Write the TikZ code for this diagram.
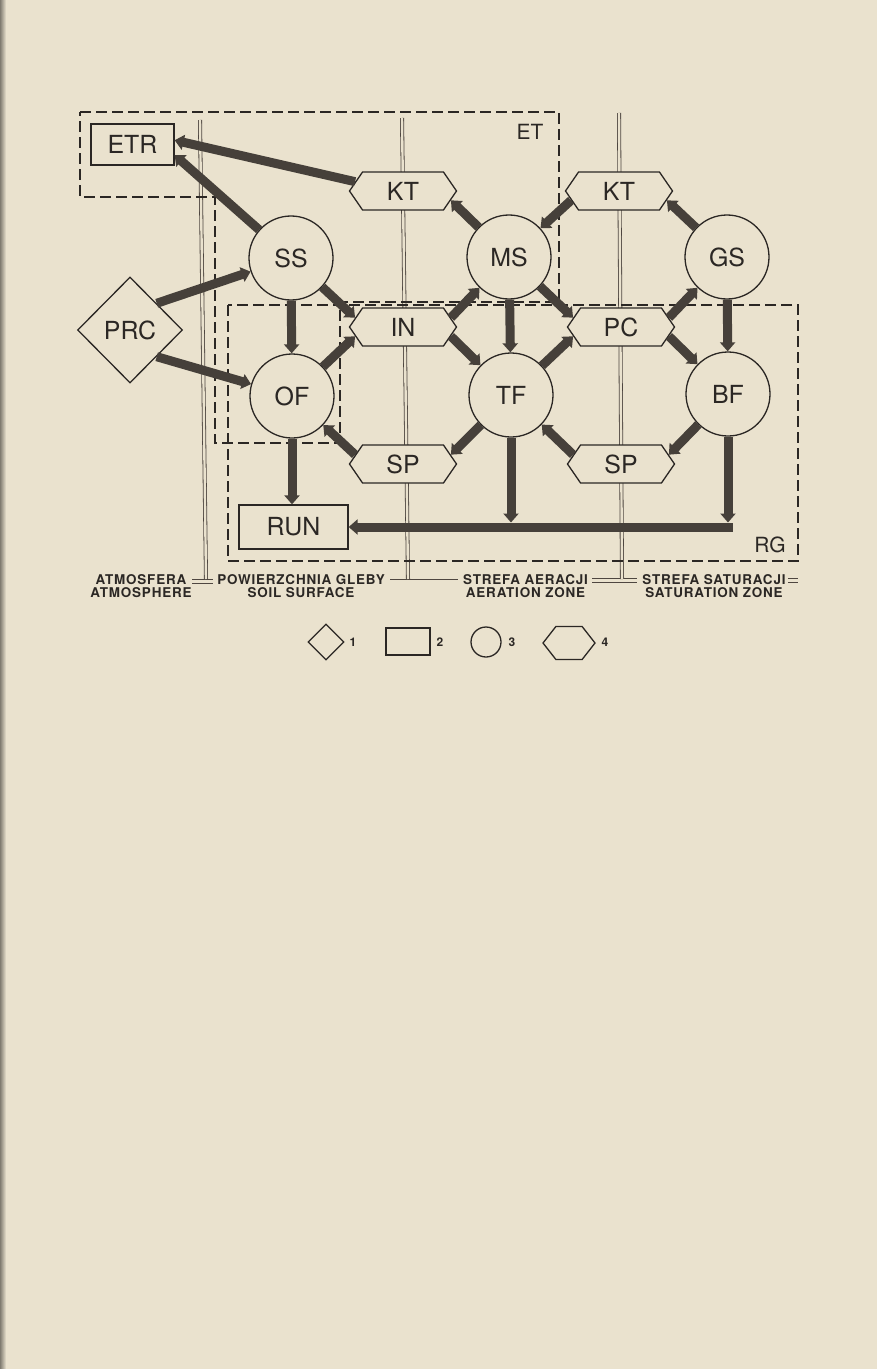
\documentclass[tikz,border=0pt]{standalone}
\usepackage{fontspec}
\setmainfont{TeX Gyre Heros}
\newfontfamily\labfont[LetterSpace=6]{TeX Gyre Heros}
\usetikzlibrary{shapes.geometric,shapes.symbols,arrows.meta,calc}
\definecolor{bgc}{HTML}{EAE2CE}
\definecolor{ink}{HTML}{2B2724}
\definecolor{arrc}{HTML}{46403A}
\definecolor{polec}{HTML}{4E4640}
\begin{document}
\begin{tikzpicture}[x=1bp,y=-1bp,
  every node/.style={font=\fontsize{25}{25}\selectfont, text=ink},
  shp/.style={draw=ink, fill=bgc, line width=1.3bp, inner sep=0pt},
  circ/.style={shp, circle, minimum size=84bp},
  hexa/.style={shp, signal, signal to=east and west, signal pointer angle=111,
               minimum width=107bp, minimum height=38bp},
  box/.style={shp, rectangle},
  dia/.style={shp, diamond, minimum width=105bp, minimum height=106bp},
  arr/.style={draw=arrc, line width=9bp, -{Triangle[width=15bp,length=9bp]}},
  dbox/.style={draw=ink, line width=1.3bp, dash pattern=on 11bp off 5bp},
  pole/.style={draw=polec, line width=0.8bp, double=bgc, double distance=2.4bp},
  foot/.style={draw=polec, line width=0.8bp, double=bgc, double distance=3bp},
  lab/.style={font=\labfont\bfseries\fontsize{13.5}{12.5}\selectfont, align=center, text=ink},
  leg/.style={font=\bfseries\fontsize{12}{12}\selectfont, text=ink},
  zone/.style={font=\fontsize{21}{21}\selectfont}
]
\useasboundingbox (0,0) rectangle (877,1369);
\fill[bgc] (0,0) rectangle (877,1369);
\shade[left color=black!45!bgc, right color=bgc] (0,0) rectangle (6,1369);

% poles
\draw[foot] (192,581.5) -- (213,581.5);
\draw[foot] (390,581) -- (458,581);
\draw[foot] (592,580.5) -- (637,580.5);
\draw[foot] (788,580.5) -- (798,580.5);
\draw[pole] (200,120) -- (206,579);
\draw[pole] (402,118) -- (408,579);
\draw[pole] (619,113) -- (622,579);

% dashed zones
\draw[dbox] (80,112) -- (559,112) -- (559,302) -- (340,302) -- (340,443) -- (215,443) -- (215,197) -- (80,197) -- cycle;
\draw[dbox] (228,305) rectangle (798,561);
\node[zone] (ET) at (530,132) {ET};
\node[zone] (RG) at (770,545) {RG};

% nodes
\node[box, minimum width=83bp, minimum height=41bp] (ETR) at (132.5,144.5) {ETR};
\node[dia] (PRC) at (130,330) {PRC};
\node[circ] (SS) at (291,258) {SS};
\node[circ] (MS) at (509,257) {MS};
\node[circ] (GS) at (727,257) {GS};
\node[circ] (OF) at (292,396) {OF};
\node[circ] (TF) at (511,395) {TF};
\node[circ] (BF) at (728,394) {BF};
\node[hexa] (KT1) at (403,191) {KT};
\node[hexa] (KT2) at (619,191) {KT};
\node[hexa] (IN) at (403,327) {IN};
\node[hexa] (PC) at (621,327) {PC};
\node[hexa] (SP1) at (403,464) {SP};
\node[hexa] (SP2) at (621,464) {SP};
\node[box, minimum width=109bp, minimum height=44bp] (RUN) at (293.5,527) {RUN};

% arrows
\draw[arr] (KT1.169) -- ($(ETR.north east)!0.4!(ETR.south east)$);
\draw[arr] (SS) -- ($(ETR.north east)!0.75!(ETR.south east)$);
\draw[arr] (PRC.45) -- (SS);
\draw[arr] (PRC.-45) -- (OF);
\draw[arr] (SS) -- (OF);
\draw[arr] (SS) -- (IN.169);
\draw[arr] (OF) -- (IN.191);
\draw[arr] (SP1.169) -- (OF);
\draw[arr] (OF.south) -- (OF.south |- RUN.north);
\draw[arr] (MS) -- (KT1.-11);
\draw[arr] (KT2.191) -- (MS);
\draw[arr] (GS) -- (KT2.-11);
\draw[arr] (IN.11) -- (MS);
\draw[arr] (MS) -- (TF);
\draw[arr] (MS) -- (PC.169);
\draw[arr] (IN.-11) -- (TF);
\draw[arr] (TF) -- (PC.191);
\draw[arr] (PC.11) -- (GS);
\draw[arr] (GS) -- (BF);
\draw[arr] (PC.-11) -- (BF);
\draw[arr] (TF) -- (SP1.11);
\draw[arr] (SP2.169) -- (TF);
\draw[arr] (BF) -- (SP2.11);
\coordinate (J1) at (TF.south |- RUN.east);
\coordinate (J2) at (BF.south |- RUN.east);
\draw[arr] (TF.south) -- ([yshift=4.5bp]J1);
\draw[arr] (BF.south) -- ([yshift=4.5bp]J2);
\draw[arr] ([xshift=4.5bp]J2) -- (RUN.east);

% zone labels
\node[lab] (L1) at (141,586) {ATMOSFERA\\ATMOSPHERE};
\node[lab] (L2) at (301,586) {POWIERZCHNIA GLEBY\\SOIL SURFACE};
\node[lab] (L3) at (525.5,586) {STREFA AERACJI\\AERATION ZONE};
\node[lab] (L4) at (714,586) {STREFA SATURACJI\\SATURATION ZONE};

% legend
\node[shp, diamond, minimum width=36bp, minimum height=36bp] (G1) at (326,642) {};
\node[leg, anchor=west] (N1) at (346,642) {1};
\node[shp, rectangle, minimum width=44bp, minimum height=27bp] (G2) at (408,641.5) {};
\node[leg, anchor=west] (N2) at (433,642) {2};
\node[shp, circle, minimum size=30bp] (G3) at (486,642) {};
\node[leg, anchor=west] (N3) at (505,642) {3};
\node[shp, signal, signal to=east and west, signal pointer angle=104, minimum width=52bp, minimum height=33bp] (G4) at (569,643) {};
\node[leg, anchor=west] (N4) at (598,642) {4};
\end{tikzpicture}
\end{document}
